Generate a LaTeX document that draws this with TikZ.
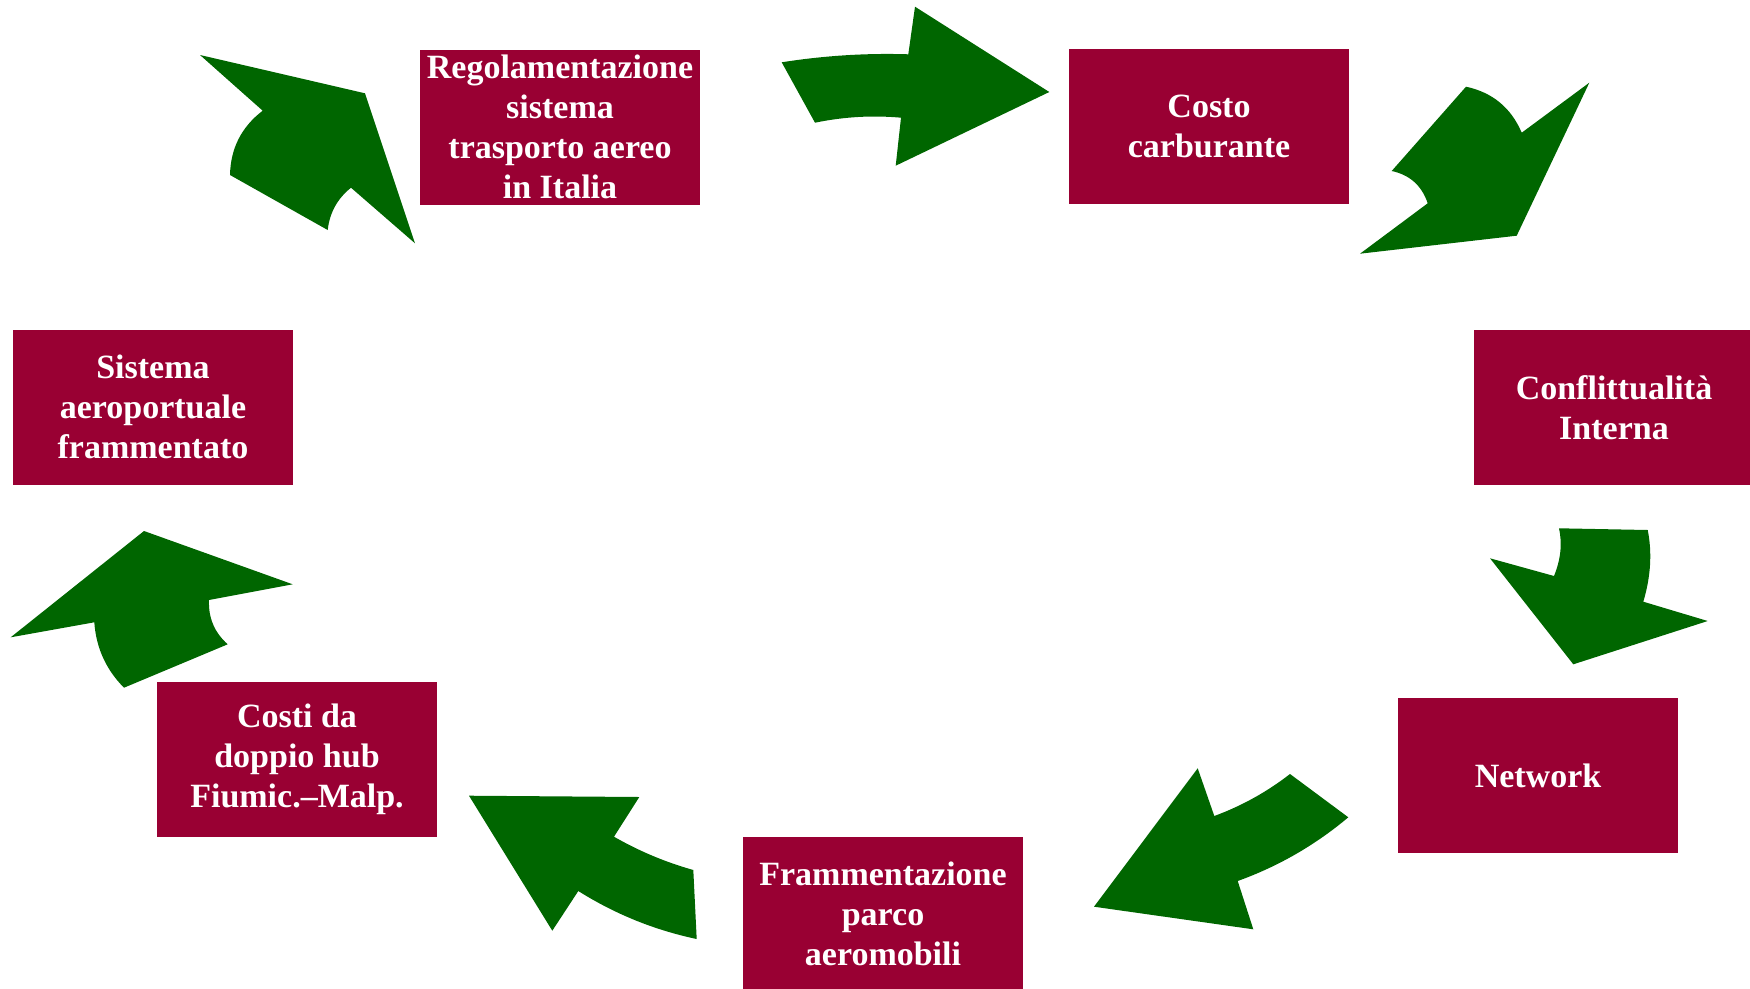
\documentclass[tikz,border=0pt]{standalone}
\usepackage{fontspec}
\setmainfont{Liberation Serif}
\definecolor{boxred}{HTML}{990033}
\definecolor{arrgreen}{HTML}{006600}
\begin{document}
\begin{tikzpicture}[x=1pt,y=-1pt,
  box/.style={rectangle, fill=boxred, text=white, minimum width=280pt, minimum height=155pt,
    inner sep=0pt, align=center, font=\fontsize{34}{40}\selectfont\bfseries},
  bigarrow/.style={fill=arrgreen, draw=none}]
\useasboundingbox (0,0) rectangle (1750,988);

% boxes
\node[box] (reg)   at (560,127)    {Regolamentazione\\sistema\\trasporto aereo\\in Italia};
\node[box] (costo) at (1209,126.5) {Costo\\carburante};
\node[box] (confl) at (1614,407.5) {Conflittualità\\Interna};
\node[box] (netw)  at (1538,775.5) {Network};
\node[box] (framm) at (883,914.2)  {Frammentazione\\parco\\aeromobili};
\node[box] (costi) at (297,759.5)  {Costi da\\doppio hub\\Fiumic.–Malp.};
\node[box] (sist)  at (153,407)    {Sistema\\aeroportuale\\frammentato};

% A: Sistema -> Regolamentazione
\fill[bigarrow] (230,175) .. controls (230.57,148.3) and (241.47,126.87) .. (262.7,110.7)
  -- (200,55) -- (365,93.3) -- (415,243.3) -- (351,187.7)
  .. controls (337.43,198.53) and (329.67,212.63) .. (327.7,230) -- cycle;
% B: Regolamentazione -> Costo
\fill[bigarrow] (781.7,62.3) .. controls (823.9,55.63) and (866.1,52.97) .. (908.3,54.3)
  -- (915,6.7) -- (1049.3,92) -- (895.7,165.7) -- (901,117.7)
  .. controls (872.33,115.1) and (843.67,116.77) .. (815,122.7) -- cycle;
% C: Costo -> Conflittualita
\fill[bigarrow] (1466,86.7) .. controls (1492.5,92.43) and (1511.07,107.77) .. (1521.7,132.7)
  -- (1589.3,82.7) -- (1516.7,235.7) -- (1360,253.7) -- (1427.7,203.3)
  .. controls (1421.83,185.67) and (1409.83,174.9) .. (1391.7,171) -- cycle;
% D: Conflittualita -> Network
\fill[bigarrow] (1559,528.3) -- (1647.7,530) .. controls (1652.23,552.77) and (1650.77,576.67) .. (1643.3,601.7)
  -- (1707.7,621) -- (1573.3,664.3) -- (1490,558.3) -- (1554,576)
  .. controls (1560.73,559.5) and (1562.4,543.6) .. (1559,528.3) -- cycle;
% E: Network -> Frammentazione
\fill[bigarrow] (1290,774) .. controls (1266.97,791.87) and (1241.73,805.87) .. (1214.3,816)
  -- (1197.7,768.3) -- (1094,906.7) -- (1253.3,929.3) -- (1237.7,881)
  .. controls (1278.3,866.37) and (1315.17,845.13) .. (1348.3,817.3) -- cycle;
% F: Frammentazione -> Costi
\fill[bigarrow] (469,795.7) -- (639.3,797) -- (614,836.7)
  .. controls (639.03,851.07) and (665.47,862.17) .. (693.3,870)
  -- (696.7,939) .. controls (654.43,930.07) and (614.97,914.07) .. (578.3,891)
  -- (552.3,930.7) -- cycle;
% G: Costi -> Sistema
\fill[bigarrow] (144,531) -- (292.7,584.3) -- (209,600)
  .. controls (208.23,617.77) and (214.47,632.53) .. (227.7,644.3)
  -- (124,687.7) .. controls (106.03,669.63) and (96.13,647.83) .. (94.3,622.3)
  -- (10.7,637.3) -- cycle;
\end{tikzpicture}
\end{document}
